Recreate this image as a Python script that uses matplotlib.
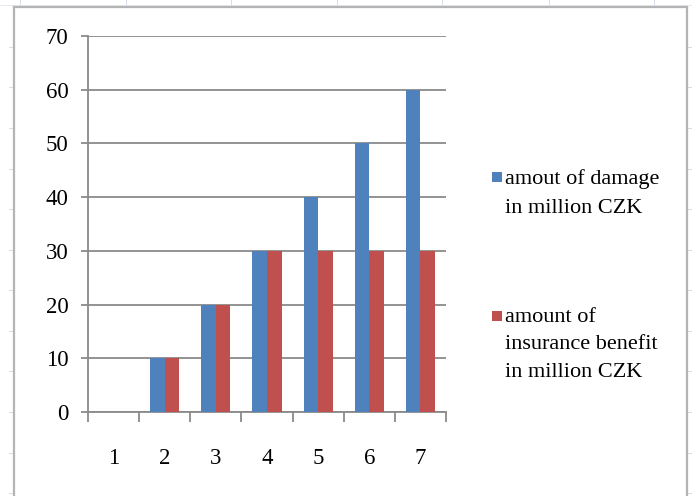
import matplotlib
matplotlib.use('agg')
import matplotlib.pyplot as plt
from matplotlib.patches import Rectangle
from matplotlib.lines import Line2D
import numpy as np

categories = ['1', '2', '3', '4', '5', '6', '7']
damage = [0, 10, 20, 30, 40, 50, 60]
benefit = [0, 10, 20, 30, 30, 30, 30]
series_labels = ['amout of damage\nin million CZK',
                 'amount of\ninsurance benefit\nin million CZK']
yticks = [0, 10, 20, 30, 40, 50, 60, 70]

BLUE = '#4F81BD'
RED = '#C0504D'
GRID = '#8a8a8a'
FONT = 'Liberation Serif'

W, H = 692, 496
fig = plt.figure(figsize=(W / 100, H / 100), dpi=100)
fig.patch.set_facecolor('white')


def fx(px):
    return px / W


def fy(py):
    return 1 - py / H


# faint spreadsheet cell marks around the chart frame
for x in [20, 126, 231, 337, 442, 549, 654]:
    fig.add_artist(Line2D([fx(x), fx(x)], [fy(0), fy(6)], color='#d6dce8', lw=0.7))
for y in [47, 87, 128, 169, 209, 250, 290, 331, 371, 412, 453, 493]:
    fig.add_artist(Line2D([fx(9), fx(13)], [fy(y), fy(y)], color='#d6dce8', lw=0.7))
    fig.add_artist(Line2D([fx(688), fx(692)], [fy(y), fy(y)], color='#d6dce8', lw=0.7))
fig.add_artist(Line2D([fx(0), fx(692)], [fy(5), fy(5)], color='#e4e8f0', lw=0.7))

# chart frame
frame_kw = dict(color='#b4b4b4', lw=1.6, solid_capstyle='projecting')
fig.add_artist(Line2D([fx(14), fx(14)], [fy(7), fy(500)], **frame_kw))
fig.add_artist(Line2D([fx(14), fx(687)], [fy(7), fy(7)], **frame_kw))
fig.add_artist(Line2D([fx(687), fx(687)], [fy(7), fy(500)], **frame_kw))

ax = fig.add_axes([fx(88), fy(412), fx(446) - fx(88), fy(36) - fy(412)])
ax.set_facecolor('none')

x = np.arange(1, len(categories) + 1)
bw = 1 / 3.5
ax.bar(x - bw / 2, damage, width=bw, color=BLUE, zorder=3)
ax.bar(x + bw / 2, benefit, width=bw, color=RED, zorder=3)

ax.set_xlim(0.5, len(categories) + 0.5)
ax.set_ylim(0, 70)
ax.set_yticks(yticks)
ax.set_yticklabels([str(v) for v in yticks], fontfamily=FONT, fontsize=16.5)
ax.yaxis.grid(True, color=GRID, lw=1.3, zorder=0)
ax.set_axisbelow(True)

ax.set_xticks(x)
ax.set_xticklabels(categories, fontfamily=FONT, fontsize=16.5)
ax.set_xticks(np.arange(0.5, len(categories) + 1, 1), minor=True)
ax.tick_params(axis='x', which='major', length=0, pad=26)
ax.tick_params(axis='x', which='minor', length=7, width=1.3, color=GRID, direction='out')
ax.tick_params(axis='y', length=5, width=1.3, color=GRID, pad=9)

for s in ['top', 'right']:
    ax.spines[s].set_visible(False)
for s in ['left', 'bottom']:
    ax.spines[s].set_color(GRID)
    ax.spines[s].set_linewidth(1.3)

# legend drawn beside the plot: (colour, label, text top px, square top px, line spacing)
legend_items = [(BLUE, series_labels[0], 169, 172, 1.75),
                (RED, series_labels[1], 308, 311, 1.6)]
for color, label, top, sq, ls in legend_items:
    fig.add_artist(Rectangle((fx(492), fy(sq + 10)), fx(10), fy(0) - fy(10),
                             facecolor=color, edgecolor='none'))
    fig.text(fx(505), fy(top), label, fontfamily=FONT, fontsize=16,
             va='top', ha='left', linespacing=ls)

fig.savefig('out.png', dpi=100, facecolor='white')
